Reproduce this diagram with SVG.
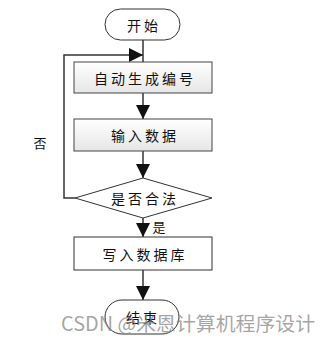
<svg xmlns="http://www.w3.org/2000/svg" width="331" height="341" viewBox="0 0 331 341">
<defs>
<linearGradient id="g" x1="0" y1="0" x2="0" y2="1"><stop offset="0" stop-color="#ffffff"/><stop offset="1" stop-color="#e6e6e6"/></linearGradient>
<marker id="avd" viewBox="0 0 14 14" markerWidth="14" markerHeight="14" refX="14" refY="7" orient="auto" markerUnits="userSpaceOnUse"><path d="M0,0 L14,7 L0,14 Z" fill="#111"/></marker>
</defs>
<style>
.n{fill:#fff;stroke:#333;stroke-width:1}
.b{fill:url(#g);stroke:#444;stroke-width:1}
.t{font-family:"Noto Sans CJK SC","Noto Sans",sans-serif;font-size:14px;fill:#111;text-anchor:middle;dominant-baseline:central;letter-spacing:3px}
.c{fill:none;stroke:#333;stroke-width:1.5}
.l{font-family:"Noto Sans CJK SC",sans-serif;font-size:13px;fill:#111;text-anchor:middle;dominant-baseline:central}
</style>
<rect width="331" height="341" fill="#fff"/>
<g id="connectors">
<path class="c" d="M143,40 V62" />
<path class="c" d="M143,93 V119" marker-end="url(#avd)"/>
<path class="c" d="M143,151 V178" marker-end="url(#avd)"/>
<path class="c" d="M143,218 V237" marker-end="url(#avd)"/>
<path class="c" d="M143,270 V300" marker-end="url(#avd)"/>
<path class="c" d="M75,198 H64 V55 H143" marker-end="url(#avd)"/>
<text class="l" x="40" y="142">否</text>
<text class="l" x="159" y="226">是</text>
</g>
<g id="start"><rect class="n" x="105" y="9" width="75" height="31" rx="15.5"/><text class="t" x="144" y="25">开始</text></g>
<g id="auto"><rect class="b" x="74" y="62" width="138" height="31"/><text class="t" x="145" y="77.5">自动生成编号</text></g>
<g id="input"><rect class="b" x="74" y="119" width="138" height="32"/><text class="t" x="145" y="135">输入数据</text></g>
<g id="check"><polygon class="n" points="143,178 212,198 143,218 75,198"/><text class="t" x="145" y="198">是否合法</text></g>
<g id="write"><rect class="n" x="74" y="237" width="138" height="33"/><text class="t" x="145" y="253.5">写入数据库</text></g>
<g id="end"><rect class="n" x="105" y="300" width="74" height="34" rx="17"/><text class="t" x="143" y="317">结束</text></g>
<text x="61" y="331" font-family="'Noto Sans CJK SC',sans-serif" font-size="19.5" textLength="254" lengthAdjust="spacingAndGlyphs" fill="#888" fill-opacity="0.75">CSDN @米恩计算机程序设计</text>
</svg>
